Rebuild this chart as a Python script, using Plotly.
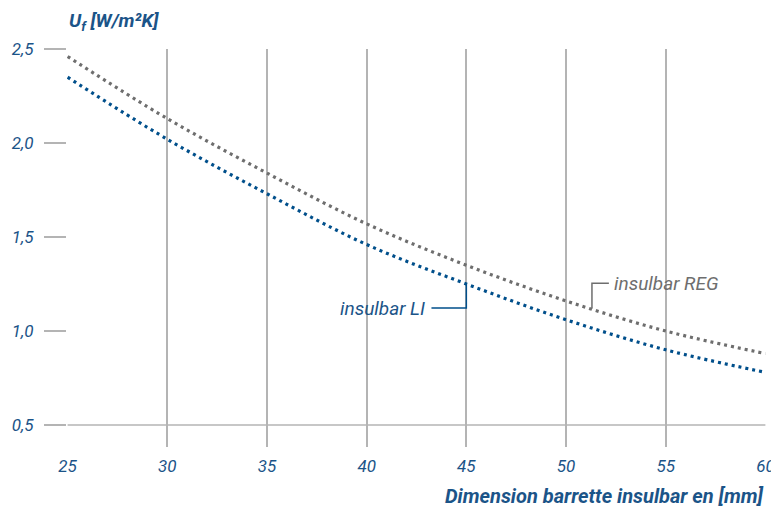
import plotly.graph_objects as go

widths_mm = [25, 30, 35, 40, 45, 50, 55, 60]
uf_reg = [2.46, 2.13, 1.84, 1.57, 1.35, 1.16, 1.00, 0.88]
uf_li = [2.35, 2.02, 1.73, 1.46, 1.25, 1.06, 0.90, 0.78]
y_ticks = [0.5, 1.0, 1.5, 2.0, 2.5]
y_ticktext = ["0,5", "1,0", "1,5", "2,0", "2,5"]

BLUE = "#004f8b"
TXT_BLUE = "#1b5488"
GRAY = "#6e6e6e"
GRID = "#b4b4b4"
FONT = "Roboto, sans-serif"

fig = go.Figure()
fig.add_trace(go.Scatter(x=widths_mm, y=uf_reg, mode="lines", name="insulbar REG",
                         line=dict(color=GRAY, width=3.2, dash="3px,4px", shape="spline")))
fig.add_trace(go.Scatter(x=widths_mm, y=uf_li, mode="lines", name="insulbar LI",
                         line=dict(color=BLUE, width=3.2, dash="3px,4px", shape="spline")))

# baseline at 0.5
fig.add_shape(type="line", xref="x", yref="y", x0=widths_mm[0], x1=widths_mm[-1], y0=0.5, y1=0.5,
              line=dict(color=GRID, width=1.5), layer="below")

# leader for LI
fig.add_shape(type="path", xref="x", yref="y",
              path=f"M 43.25 1.122 L 45 1.122 L 45 {uf_li[4]}",
              line=dict(color=BLUE, width=1.5))
fig.add_annotation(x=43.05, y=1.122, xref="x", yref="y", text="insulbar LI", showarrow=False,
                   xanchor="right", yanchor="middle",
                   font=dict(family=FONT, size=19, color=TXT_BLUE, style="italic"))
# leader for REG
fig.add_shape(type="path", xref="x", yref="y",
              path="M 51.3 1.12 L 51.3 1.254 L 52.15 1.254",
              line=dict(color=GRAY, width=1.5))
fig.add_annotation(x=52.3, y=1.254, xref="x", yref="y", text="insulbar REG", showarrow=False,
                   xanchor="left", yanchor="middle",
                   font=dict(family=FONT, size=19, color=GRAY, style="italic"))

fig.add_annotation(x=0.0, y=1.068, xref="paper", yref="paper", text="U<sub>f</sub> [W/m²K]",
                   showarrow=False, xanchor="left", yanchor="middle",
                   font=dict(family=FONT, size=19, color=TXT_BLUE, weight="bold", style="italic"))
fig.add_annotation(x=1.0, y=-0.122, xref="paper", yref="paper",
                   text="Dimension barrette insulbar en [mm]",
                   showarrow=False, xanchor="right", yanchor="middle",
                   font=dict(family=FONT, size=20, color=TXT_BLUE, weight="bold", style="italic"))

fig.update_layout(
    width=771, height=500,
    margin=dict(l=59, r=13, t=41, b=61),
    plot_bgcolor="white", paper_bgcolor="white",
    showlegend=False,
    xaxis=dict(range=[24.97, 60.03], tickvals=widths_mm, showgrid=True, gridcolor=GRID, gridwidth=1.5,
               zeroline=False, showline=False, ticks="", ticklabelstandoff=7, automargin=False,
               tickfont=dict(family=FONT, size=17, color=TXT_BLUE, style="italic")),
    yaxis=dict(range=[0.383, 2.5], tickvals=y_ticks, ticktext=y_ticktext, showgrid=False,
               zeroline=False, showline=False, ticks="outside", ticklen=22, tickwidth=1.5,
               tickcolor=GRID, ticklabelstandoff=7, automargin=False,
               tickfont=dict(family=FONT, size=17, color=TXT_BLUE, style="italic")),
)

fig.write_html("out.html")
